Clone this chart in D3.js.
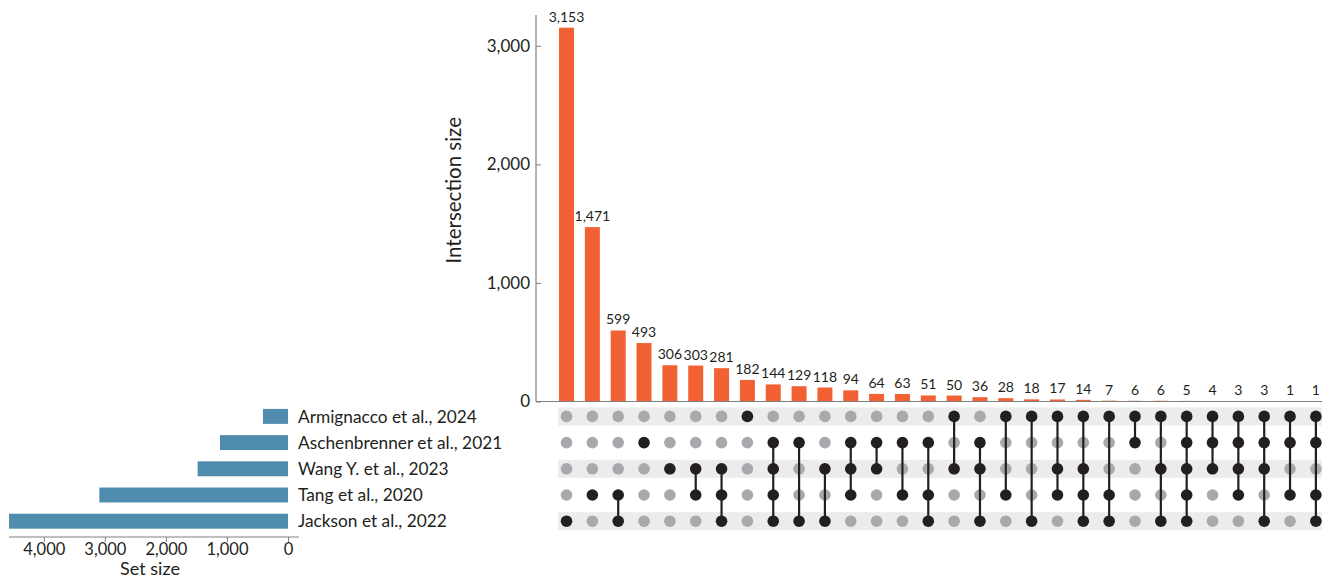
<!DOCTYPE html>
<html>
<head>
<meta charset="utf-8">
<script src="https://cdn.jsdelivr.net/npm/d3@7"></script>
<style>
	body { margin: 0; background: #fff; }
	text { font-family: Lato, "Open Sans", sans-serif; fill: #231f20; }
</style>
</head>
<body>
<div id="chart"></div>
<script>
const sets = ['Armignacco et al., 2024', 'Aschenbrenner et al., 2021', 'Wang Y. et al., 2023', 'Tang et al., 2020', 'Jackson et al., 2022'];
const setSizes = [410, 1114, 1480, 3090, 4570];

const counts = [3153, 1471, 599, 493, 306, 303, 281, 182, 144, 129, 118, 94, 64, 63, 51,
	50, 36, 28, 18, 17, 14, 7, 6, 6, 5, 4, 3, 3, 1, 1];
// set indices (0 = Armignacco ... 4 = Jackson) in each intersection
const members = [
	[4], [3], [3, 4], [1], [2], [2, 3], [2, 3, 4], [0], [1, 2, 3, 4], [1, 4],
	[2, 4], [1, 2, 3], [1, 2], [1, 3], [1, 3, 4], [0, 2], [1, 2, 4], [0, 3], [0, 4], [0, 2, 3],
	[0, 2, 3, 4], [0, 3, 4], [0, 1], [0, 2, 4], [0, 1, 2, 3, 4], [0, 1, 2], [0, 1, 2, 3], [0, 1, 2, 4], [0, 1, 3], [0, 1, 3, 4]
];
const yTicks = [0, 1000, 2000, 3000];
const setTicks = [0, 1000, 2000, 3000, 4000];

const width = 1322;
const height = 579;
const orange = '#f26133';
const blue = '#508cae';
const dark = '#231f20';
const grey = '#a7a9ac';
const axisCol = '#808080';

const svg = d3.select('#chart')
	.append('svg')
	.attr('width', width)
	.attr('height', height);

const fmt = d3.format(',');

// shared scales
const x = d3.scaleBand()
	.domain(d3.range(counts.length))
	.range([553.6, 1328.8])
	.paddingInner(0.42)
	.paddingOuter(0.21);

const row = d3.scaleBand()
	.domain(d3.range(sets.length))
	.range([403.3, 534.3])
	.paddingInner(0.43)
	.paddingOuter(0.215);

const y = d3.scaleLinear()
	.domain([0, 3260])
	.range([401.5, 15]);

const sx = d3.scaleLinear()
	.domain([0, 4570])
	.range([288, 9]);

// ---- intersection bars
const barsG = svg.append('g');

barsG.selectAll('rect')
	.data(counts)
	.join('rect')
	.attr('x', (d, i) => x(i))
	.attr('y', d => y(d))
	.attr('width', x.bandwidth())
	.attr('height', d => y(0) - y(d))
	.attr('fill', orange);

barsG.selectAll('text.val')
	.data(counts)
	.join('text')
	.attr('class', 'val')
	.attr('x', (d, i) => x(i) + x.bandwidth() / 2)
	.attr('y', d => y(d) - 6)
	.attr('text-anchor', 'middle')
	.style('font-size', '14px')
	.text(d => fmt(d));

const yAxis = svg.append('g')
	.attr('transform', 'translate(536,0)')
	.call(d3.axisRight(y).tickValues(yTicks).tickSize(5).tickFormat(fmt));
yAxis.select('.domain').remove();
yAxis.selectAll('line').attr('stroke', axisCol);
yAxis.selectAll('text')
	.attr('x', -6)
	.attr('text-anchor', 'end')
	.style('font-size', '17px')
	.style('font-family', 'Lato, sans-serif');

svg.append('line')
	.attr('x1', 536).attr('x2', 536)
	.attr('y1', 15).attr('y2', y(0))
	.attr('stroke', axisCol).attr('stroke-width', 1.2);
svg.append('line')
	.attr('x1', 536).attr('x2', width)
	.attr('y1', y(0)).attr('y2', y(0))
	.attr('stroke', axisCol).attr('stroke-width', 1.2);

svg.append('text')
	.attr('transform', `translate(461,${(15 + y(0)) / 2 - 18}) rotate(-90)`)
	.attr('text-anchor', 'middle')
	.style('font-size', '20.5px')
	.text('Intersection size');

// ---- matrix
const mat = svg.append('g');

mat.selectAll('rect.stripe')
	.data(d3.range(sets.length).filter(i => i % 2 === 0))
	.join('rect')
	.attr('class', 'stripe')
	.attr('x', x(0) - 1)
	.attr('y', d => row(d) + row.bandwidth() / 2 - 9)
	.attr('width', width - x(0) + 1)
	.attr('height', 18)
	.attr('fill', '#ececec');

const cells = [];
counts.forEach((c, i) => {
	sets.forEach((s, j) => {
		cells.push({ col: i, row: j, on: members[i].includes(j) });
	});
});

const cx = i => x(i) + x.bandwidth() / 2;
const cy = j => row(j) + row.bandwidth() / 2;

mat.selectAll('circle.off')
	.data(cells.filter(d => !d.on))
	.join('circle')
	.attr('class', 'off')
	.attr('cx', d => cx(d.col))
	.attr('cy', d => cy(d.row))
	.attr('r', 5.8)
	.attr('fill', grey);

mat.selectAll('line.link')
	.data(members.map((m, i) => ({ col: i, lo: d3.min(m), hi: d3.max(m) })).filter(d => d.hi > d.lo))
	.join('line')
	.attr('class', 'link')
	.attr('x1', d => cx(d.col)).attr('x2', d => cx(d.col))
	.attr('y1', d => cy(d.lo)).attr('y2', d => cy(d.hi))
	.attr('stroke', dark)
	.attr('stroke-width', 2.2);

mat.selectAll('circle.on')
	.data(cells.filter(d => d.on))
	.join('circle')
	.attr('class', 'on')
	.attr('cx', d => cx(d.col))
	.attr('cy', d => cy(d.row))
	.attr('r', 5.8)
	.attr('fill', dark);

// ---- set size bars
const side = svg.append('g');

side.selectAll('rect')
	.data(setSizes)
	.join('rect')
	.attr('x', d => sx(d))
	.attr('y', (d, i) => row(i))
	.attr('width', d => sx(0) - sx(d))
	.attr('height', row.bandwidth())
	.attr('fill', blue);

side.selectAll('text')
	.data(sets)
	.join('text')
	.attr('x', 298)
	.attr('y', (d, i) => cy(i))
	.attr('dy', '0.36em')
	.style('font-size', '17.3px')
	.text(d => d);

const sAxis = svg.append('g')
	.attr('transform', 'translate(0,537)')
	.call(d3.axisBottom(sx).tickValues(setTicks).tickSize(5).tickFormat(fmt));
sAxis.select('.domain').remove();
sAxis.selectAll('line').attr('stroke', axisCol);
sAxis.selectAll('text')
	.attr('y', 6)
	.style('font-size', '16.5px')
	.style('font-family', 'Lato, sans-serif');

svg.append('line')
	.attr('x1', 9).attr('x2', 299)
	.attr('y1', 537).attr('y2', 537)
	.attr('stroke', axisCol).attr('stroke-width', 1.2);

svg.append('text')
	.attr('x', 150)
	.attr('y', 575)
	.attr('text-anchor', 'middle')
	.style('font-size', '18px')
	.text('Set size');
</script>
</body>
</html>
